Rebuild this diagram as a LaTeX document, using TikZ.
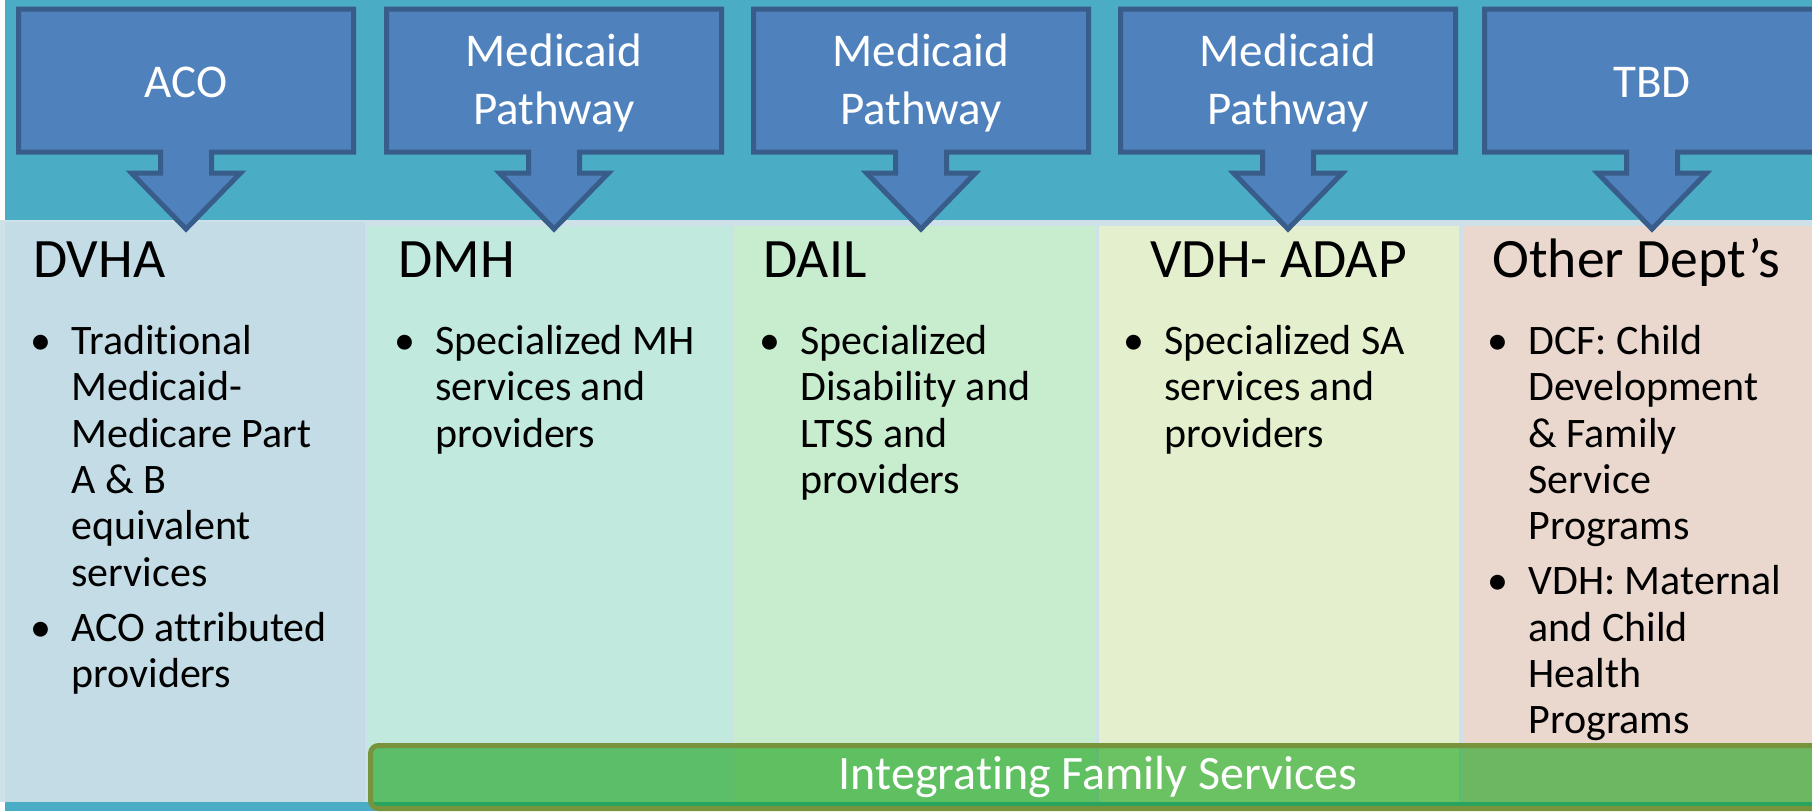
\documentclass[tikz,border=0pt]{standalone}
\usepackage{fontspec}
\setmainfont{Carlito}[RawFeature={-liga;-clig}]
\definecolor{band}{HTML}{4BACC6}
\definecolor{boxfill}{HTML}{4F81BD}
\definecolor{boxedge}{HTML}{385D8A}
\definecolor{colframe}{HTML}{CEE1E9}
\definecolor{dvhacol}{HTML}{C4DCE5}
\definecolor{dmhcol}{HTML}{C1E9DE}
\definecolor{dailcol}{HTML}{C8ECCE}
\definecolor{vdhcol}{HTML}{E4F0CD}
\definecolor{othercol}{HTML}{EAD7CD}
\definecolor{famgreen}{HTML}{0D9E0F}
\definecolor{famedge}{HTML}{77933C}
\newcommand{\bul}{\llap{\textbullet\hspace{10pt}}}
\begin{document}
\begin{tikzpicture}[x=0.5pt, y=-0.5pt,
	arrowbox/.style={draw=boxedge, fill=boxfill, line width=2.5pt, line join=miter},
	boxtext/.style={text=white, align=center, inner sep=0, font=\fontsize{23.5}{29}\selectfont},
	head/.style={anchor=base west, inner sep=0, font=\fontsize{27.8}{33}\selectfont},
	items/.style={anchor=north west, inner sep=0, align=left, font=\fontsize{21}{23.2}\selectfont},
	famband/.style={draw=famedge, line width=2.5pt, fill=famgreen, fill opacity=0.56, rounded corners=4pt}]
	\useasboundingbox (0,0) rectangle (1812,811);
	\clip (0,0) rectangle (1812,811);
	% band and the five department columns
	\fill[white] (0,0) rectangle (1812,811);
	\fill[band] (5,0) rectangle (1812,811);
	\fill[colframe] (0,220) rectangle (1812,802);
	\fill[dvhacol] (5,222) rectangle (365,802);
	\fill[dmhcol] (368,226) rectangle (731,802);
	\fill[dailcol] (734,226) rectangle (1096,802);
	\fill[vdhcol] (1099,226) rectangle (1459,802);
	\fill[othercol] (1463,226) rectangle (1812,802);
	% down arrow callouts
	\foreach \cx in {186,554,921,1288,1652}
		\draw[arrowbox] (\cx-167.5,9) -- ++(335,0) -- ++(0,143) -- ++(-142,0) -- ++(0,21) -- ++(29,0)
			-- ++(-54.5,56) -- ++(-54.5,-56) -- ++(29,0) -- ++(0,-21) -- ++(-142,0) -- cycle;
	\node[boxtext] (aco) at (186,82) {ACO};
	\node[boxtext] (mp1) at (554,83) {Medicaid\\Pathway};
	\node[boxtext] (mp2) at (921,83) {Medicaid\\Pathway};
	\node[boxtext] (mp3) at (1288,83) {Medicaid\\Pathway};
	\node[boxtext] (tbd) at (1652,82) {TBD};
	% column headings
	\node[head] (dvha) at (33,277) {DVHA};
	\node[head] (dmh) at (398,277) {DMH};
	\node[head] (dail) at (763,277) {DAIL};
	\node[head] (vdh) at (1150,277) {VDH- ADAP};
	\node[head] (other) at (1492,277) {Other Dept’s};
	% bullet lists
	\node[items] (dvhalist) at (71,321.5) {\strut\bul Traditional\\Medicaid-\\Medicare Part\\A \& B\\equivalent\\services\\[4.2pt]\bul ACO attributed\\providers};
	\node[items] (dmhlist) at (435,321.5) {\strut\bul Specialized MH\\services and\\providers};
	\node[items] (daillist) at (800,321.5) {\strut\bul Specialized\\Disability and\\LTSS and\\providers};
	\node[items] (vdhlist) at (1164,321.5) {\strut\bul Specialized SA\\services and\\providers};
	\node[items] (otherlist) at (1528,321.5) {\strut\bul DCF: Child\\Development\\\& Family\\Service\\Programs\\[4.2pt]\bul VDH: Maternal\\and Child\\Health\\Programs};
	% family services bar
	\draw[famband] (370.5,745.5) rectangle (1830,808.5);
	\node[boxtext, font=\fontsize{24}{29}\selectfont] (ifs) at (1098,777) {Integrating Family Services};
\end{tikzpicture}
\end{document}
